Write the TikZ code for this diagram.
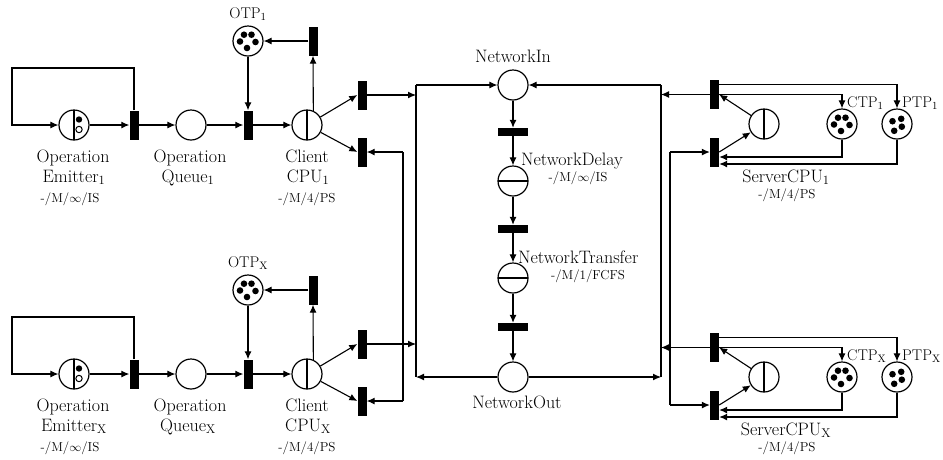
\documentclass[tikz,border=0pt]{standalone}
\usetikzlibrary{arrows.meta}
\begin{document}
\begin{tikzpicture}[x=1pt,y=-1pt,
  place/.style={circle, draw, line width=1.2pt, minimum size=30pt, inner sep=0pt, fill=white},
  vdiv/.style={place, path picture={\draw[black, line width=1.2pt] (path picture bounding box.north) -- (path picture bounding box.south);}},
  hdiv/.style={place, path picture={\draw[black, line width=1.2pt] (path picture bounding box.west) -- (path picture bounding box.east);}},
  tokfive/.style={place, path picture={\foreach \a/\b in {-4/6.3,3.5/6.3,-8/-0.5,7.5/-1,-1/-7}{\fill[black] ([shift={(\a pt,\b pt)}]path picture bounding box.center) circle[radius=3.3pt];}}},
  tokfour/.style={place, path picture={\foreach \a/\b in {-4.5/2.8,4.2/5.2,4.8/-2.7,-2.8/-6.8}{\fill[black] ([shift={(\a pt,\b pt)}]path picture bounding box.center) circle[radius=3.3pt];}}},
  vbar/.style={rectangle, fill=black, minimum width=9pt, minimum height=29pt, inner sep=0pt},
  hbar/.style={rectangle, fill=black, minimum width=30pt, minimum height=8pt, inner sep=0pt},
  arc/.style={line width=1.1pt, -{Latex[length=8pt,width=7pt]}},
  ln/.style={line width=1.1pt},
  lbl/.style={font=\fontsize{18}{20}\selectfont, inner sep=0pt, anchor=base},
  mid/.style={font=\fontsize{15.5}{18}\selectfont, inner sep=0pt, anchor=base},
  small/.style={font=\fontsize{13}{15}\selectfont, inner sep=0pt, anchor=base}]
\useasboundingbox (0,0) rectangle (943,459);

% ---------- network column ----------
\node[place] (NIn) at (513,85) {};
\node[hbar] (N1) at (513,132) {};
\node[hdiv] (ND) at (513,181) {};
\node[hbar] (N2) at (513,229) {};
\node[hdiv] (NT) at (513,278) {};
\node[hbar] (N3) at (513,327) {};
\node[place] (NOut) at (513,377) {};
\draw[arc] (NIn) -- (N1);
\draw[arc] (N1) -- (ND);
\draw[arc] (ND) -- (N2);
\draw[arc] (N2) -- (NT);
\draw[arc] (NT) -- (N3);
\draw[arc] (N3) -- (NOut);
\node[lbl] (lNIn) at (513,62) {NetworkIn};
\node[lbl] (lNOut) at (517,408) {NetworkOut};
\node[lbl, anchor=base west] (lND) at (521,165) {NetworkDelay};
\node[small] (lNDq) at (578,181.5) {-/M/$\infty$/IS};
\node[lbl, anchor=base west] (lNT) at (518,263) {NetworkTransfer};
\node[small] (lNTq) at (588,279) {-/M/1/FCFS};

% ---------- buses ----------
\coordinate (AT) at (416,85);
\coordinate (AB) at (416,377);
\coordinate (CTop) at (661,85);
\coordinate (CBot) at (661,377);
\draw[ln] (AT) -- (AB);
\draw[ln] (CTop) -- (CBot);
\draw[arc] (AT) -- (NIn);
\draw[arc] (CTop) -- (NIn);
\draw[arc] (NOut) -- (AB);
\draw[arc] (NOut) -- (CBot);

% ---------- client side ----------
\foreach \r/\dy/\s in {1/0/1,2/249/X}{
  \node[vdiv] (E\r) at (74,125+\dy) {};
  \fill ([shift={(5pt,5.5pt)}]E\r.center) circle[radius=3.2pt];
  \draw[line width=1pt] ([shift={(5pt,-4.5pt)}]E\r.center) circle[radius=3.2pt];
  \node[vbar] (TA\r) at (134,125+\dy) {};
  \node[place] (Q\r) at (191,125+\dy) {};
  \node[vbar] (TB\r) at (248,125+\dy) {};
  \node[vdiv] (C\r) at (307,125+\dy) {};
  \node[tokfive] (O\r) at (248,41+\dy) {};
  \node[vbar] (TC\r) at (313,41+\dy) {};
  \node[vbar] (TD\r) at (362,95+\dy) {};
  \node[vbar] (TE\r) at (362,152+\dy) {};
  \coordinate (L\r) at (12,68+\dy);
  \coordinate (A\r) at (416,95+\dy);
  \coordinate (B\r) at (403,152+\dy);
  \draw[arc] (TA\r.north) |- (L\r) |- (E\r);
  \draw[arc] (E\r) -- (TA\r);
  \draw[arc] (TA\r) -- (Q\r);
  \draw[arc] (Q\r) -- (TB\r);
  \draw[arc] (TB\r) -- (C\r);
  \draw[arc] (O\r) -- (TB\r);
  \draw[arc] (C\r.66) -- (TC\r.south);
  \draw[arc] (TC\r) -- (O\r);
  \draw[arc] (C\r) -- (TD\r.west);
  \draw[arc] (C\r) -- (TE\r.west);
  \draw[arc] (TD\r) -- (A\r);
  \draw[arc] (B\r) -- (TE\r);
  \node[mid] (lO\r) at (248,18+\dy) {OTP\textsubscript{\s}};
  \node[lbl] (lE\r a) at (73,162+\dy) {Operation};
  \node[lbl] (lE\r b) at (74,182+\dy) {Emitter\textsubscript{\s}};
  \node[small] (lE\r c) at (70,202+\dy) {-/M/$\infty$/IS};
  \node[lbl] (lQ\r a) at (190,162+\dy) {Operation};
  \node[lbl] (lQ\r b) at (188,182+\dy) {Queue\textsubscript{\s}};
  \node[lbl] (lC\r a) at (307,162+\dy) {Client};
  \node[lbl] (lC\r b) at (308,182+\dy) {CPU\textsubscript{\s}};
  \node[small] (lC\r c) at (307,202+\dy) {-/M/4/PS};
}
\draw[ln] (B1) -- (B2);

% ---------- server side ----------
\foreach \r/\dy/\s in {1/0/1,2/253/X}{
  \node[vbar] (ST\r) at (714.5,94.5+\dy) {};
  \node[vdiv] (SC\r) at (764,124+\dy) {};
  \node[vbar] (SB\r) at (714.5,152+\dy) {};
  \node[tokfive] (CTP\r) at (842,124+\dy) {};
  \node[tokfour] (PTP\r) at (897,124+\dy) {};
  \coordinate (Cc\r) at (661,94.5+\dy);
  \coordinate (D\r) at (670,152+\dy);
  \draw[arc] (ST\r) -- (Cc\r);
  \draw[arc] (D\r) -- (SB\r);
  \draw[arc] (SC\r) -- (ST\r.east);
  \draw[arc] (SB\r.east) -- (SC\r);
  \draw[arc] (ST\r.east) -| (CTP\r);
  \draw[arc] ([yshift=10pt]ST\r.east) -| (PTP\r);
  \draw[arc] (CTP\r) |- ([yshift=-5pt]SB\r.east);
  \draw[arc] (PTP\r) |- ([yshift=-12pt]SB\r.east);
  \node[mid, anchor=base west] (lCTP\r) at (847,107+\dy) {CTP\textsubscript{\s}};
  \node[mid, anchor=base west] (lPTP\r) at (902,107+\dy) {PTP\textsubscript{\s}};
  \node[lbl] (lS\r a) at (786,182+\dy) {ServerCPU\textsubscript{\s}};
  \node[small] (lS\r b) at (787,198+\dy) {-/M/4/PS};
}
\draw[ln] (D1) -- (D2);
\end{tikzpicture}
\end{document}
